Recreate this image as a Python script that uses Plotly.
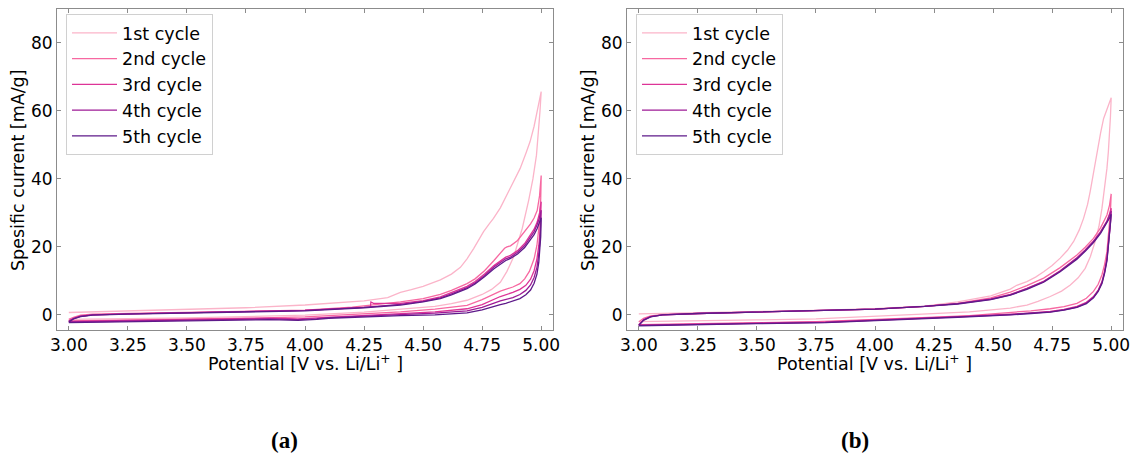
import plotly.graph_objects as go

# ---------------- data ----------------
cycle_names = ["1st cycle", "2nd cycle", "3rd cycle", "4th cycle", "5th cycle"]
colors = ["#fbb4c9", "#f768a1", "#dd3497", "#9e1a96", "#5e1a8a"]

# ---- panel (a) ----
a1_fwd_V = [3.00, 3.25, 3.50, 3.75, 4.00, 4.25, 4.35, 4.404, 4.45, 4.50, 4.573, 4.62, 4.658, 4.686, 4.714, 4.74, 4.756, 4.78, 4.798, 4.827, 4.855, 4.883, 4.911, 4.935, 4.953, 4.97, 4.982, 4.992, 5.00]
a1_fwd_I = [0.7, 1.1, 1.5, 2.1, 2.9, 4.1, 5.1, 6.6, 7.4, 8.4, 10.3, 12.0, 14.0, 16.5, 19.5, 22.5, 24.5, 26.8, 28.4, 31.5, 35.3, 39.0, 43.1, 47.5, 51.0, 55.5, 59.8, 63.0, 65.7]
a1_rev_V = [5.00, 4.995, 4.99, 4.98, 4.965, 4.947, 4.92, 4.90, 4.883, 4.855, 4.827, 4.79, 4.75, 4.686, 4.62, 4.55, 4.404, 4.25, 4.00, 3.75, 3.50, 3.25, 3.00]
a1_rev_I = [65.7, 60.0, 54.5, 47.0, 40.0, 33.7, 25.5, 20.5, 17.0, 12.8, 9.6, 7.5, 6.0, 4.3, 3.3, 2.5, 1.6, 0.8, -0.1, -0.6, -0.9, -1.1, -1.3]

a2_fwd_V = [3.00, 3.02, 3.05, 3.10, 3.25, 3.50, 3.75, 4.00, 4.20, 4.404, 4.50, 4.573, 4.62, 4.686, 4.72, 4.76, 4.80, 4.827, 4.845, 4.855, 4.87, 4.90, 4.93, 4.955, 4.97, 4.983, 4.993, 5.00]
a2_fwd_I = [-1.3, -0.7, -0.1, 0.2, 0.4, 0.7, 1.0, 1.4, 2.3, 3.8, 4.8, 6.0, 7.2, 9.2, 10.6, 13.0, 16.0, 18.2, 19.6, 20.0, 20.3, 21.9, 24.5, 26.8, 28.5, 30.7, 35.0, 41.0]
a2_rev_V = [5.00, 4.998, 4.995, 4.99, 4.982, 4.97, 4.95, 4.93, 4.91, 4.88, 4.827, 4.75, 4.686, 4.55, 4.404, 4.20, 4.00, 3.75, 3.50, 3.25, 3.05, 3.00]
a2_rev_I = [41.0, 34.0, 30.0, 25.5, 20.5, 16.5, 12.8, 10.6, 9.2, 8.2, 7.0, 4.5, 2.8, 1.7, 0.9, 0.2, -0.6, -1.0, -1.3, -1.5, -1.7, -1.8]

a3_fwd_V = [3.00, 3.02, 3.05, 3.10, 3.25, 3.50, 3.75, 4.00, 4.25, 4.277, 4.279, 4.29, 4.404, 4.50, 4.573, 4.62, 4.686, 4.72, 4.76, 4.80, 4.827, 4.85, 4.87, 4.90, 4.93, 4.955, 4.97, 4.983, 4.993, 5.00]
a3_fwd_I = [-1.8, -1.0, -0.4, 0.0, 0.3, 0.6, 0.9, 1.3, 2.2, 2.3, 3.8, 3.4, 3.4, 4.2, 5.3, 6.5, 8.4, 9.8, 12.0, 14.5, 15.8, 17.0, 17.5, 18.9, 21.0, 23.5, 25.2, 27.3, 30.0, 33.3]
a3_rev_V = [5.00, 4.998, 4.995, 4.99, 4.982, 4.97, 4.955, 4.935, 4.91, 4.88, 4.85, 4.827, 4.75, 4.686, 4.55, 4.404, 4.25, 4.10, 4.05, 3.97, 3.85, 3.75, 3.50, 3.25, 3.05, 3.00]
a3_rev_I = [33.3, 28.0, 24.5, 20.5, 16.5, 13.0, 10.5, 8.7, 7.5, 6.6, 5.9, 5.4, 3.0, 1.8, 0.9, 0.4, -0.1, -0.6, -0.9, -1.2, -1.0, -1.1, -1.4, -1.6, -1.8, -1.9]

a4_fwd_V = [3.00, 3.02, 3.05, 3.10, 3.25, 3.50, 3.75, 4.00, 4.25, 4.404, 4.50, 4.573, 4.62, 4.686, 4.72, 4.76, 4.80, 4.827, 4.85, 4.87, 4.90, 4.93, 4.955, 4.97, 4.983, 4.993, 5.00]
a4_fwd_I = [-1.9, -1.1, -0.4, 0.0, 0.3, 0.6, 0.9, 1.3, 2.2, 3.1, 4.0, 5.0, 6.2, 8.0, 9.4, 11.6, 14.1, 15.4, 16.5, 17.0, 18.4, 20.4, 22.8, 24.5, 26.6, 28.6, 30.8]
a4_rev_V = [5.00, 4.998, 4.995, 4.99, 4.982, 4.97, 4.955, 4.935, 4.91, 4.88, 4.85, 4.827, 4.75, 4.686, 4.55, 4.404, 4.25, 4.10, 4.05, 3.97, 3.85, 3.75, 3.50, 3.25, 3.05, 3.00]
a4_rev_I = [30.8, 25.5, 22.0, 18.0, 14.0, 11.0, 8.8, 7.2, 6.0, 5.1, 4.5, 4.1, 2.2, 1.2, 0.5, 0.1, -0.3, -0.8, -1.1, -1.4, -1.2, -1.3, -1.6, -1.8, -2.0, -2.1]

a5_fwd_V = [3.00, 3.02, 3.05, 3.10, 3.25, 3.50, 3.75, 4.00, 4.25, 4.404, 4.50, 4.573, 4.62, 4.686, 4.72, 4.76, 4.80, 4.827, 4.85, 4.87, 4.90, 4.93, 4.955, 4.97, 4.983, 4.993, 5.00]
a5_fwd_I = [-2.1, -1.2, -0.5, -0.1, 0.2, 0.5, 0.8, 1.2, 2.1, 2.9, 3.8, 4.8, 5.9, 7.7, 9.1, 11.2, 13.6, 14.9, 16.0, 16.6, 17.9, 19.8, 22.0, 23.6, 25.4, 27.0, 28.6]
a5_rev_V = [5.00, 4.998, 4.995, 4.99, 4.982, 4.97, 4.955, 4.935, 4.91, 4.88, 4.85, 4.827, 4.75, 4.686, 4.55, 4.404, 4.25, 4.10, 4.05, 3.97, 3.85, 3.75, 3.50, 3.25, 3.05, 3.00]
a5_rev_I = [28.6, 23.0, 19.5, 15.5, 12.0, 9.3, 7.3, 5.9, 4.8, 4.0, 3.4, 3.0, 1.5, 0.6, 0.0, -0.2, -0.5, -1.0, -1.3, -1.6, -1.4, -1.5, -1.8, -2.0, -2.2, -2.3]

# ---- panel (b) ----
b1_fwd_V = [3.00, 3.25, 3.50, 3.75, 4.00, 4.21, 4.35, 4.49, 4.573, 4.60, 4.643, 4.68, 4.714, 4.75, 4.784, 4.815, 4.841, 4.865, 4.883, 4.90, 4.911, 4.925, 4.939, 4.955, 4.968, 4.98, 4.989, 5.00]
b1_fwd_I = [0.3, 0.6, 0.9, 1.3, 1.8, 2.6, 3.8, 5.6, 7.6, 8.7, 9.8, 11.1, 12.7, 14.5, 16.7, 19.0, 21.6, 25.0, 28.4, 32.5, 36.3, 42.0, 48.0, 53.5, 57.8, 60.3, 61.8, 63.9]
b1_rev_V = [5.00, 4.997, 4.993, 4.988, 4.982, 4.972, 4.961, 4.948, 4.932, 4.912, 4.890, 4.86, 4.827, 4.79, 4.742, 4.69, 4.643, 4.573, 4.40, 4.20, 4.00, 3.75, 3.50, 3.25, 3.00]
b1_rev_I = [63.9, 58.5, 52.9, 48.0, 43.1, 37.0, 31.4, 26.0, 21.6, 17.2, 13.7, 10.9, 8.8, 7.0, 5.4, 4.0, 2.9, 2.0, 0.9, 0.2, -0.5, -1.2, -1.5, -1.7, -2.0]

b2_fwd_V = [3.00, 3.02, 3.05, 3.10, 3.25, 3.50, 3.75, 4.00, 4.21, 4.35, 4.49, 4.573, 4.643, 4.714, 4.784, 4.855, 4.89, 4.925, 4.955, 4.982, 4.993, 5.00]
b2_fwd_I = [-2.0, -1.0, -0.3, 0.1, 0.4, 0.8, 1.2, 1.7, 2.5, 3.4, 5.0, 6.7, 8.6, 10.8, 13.9, 17.6, 19.9, 22.5, 25.6, 29.4, 32.3, 35.6]
b2_rev_V = [5.00, 4.997, 4.993, 4.988, 4.982, 4.972, 4.961, 4.945, 4.925, 4.895, 4.855, 4.80, 4.742, 4.66, 4.573, 4.40, 4.20, 4.00, 3.82, 3.75, 3.50, 3.25, 3.05, 3.00]
b2_rev_I = [35.6, 30.5, 26.5, 22.3, 18.6, 14.8, 11.8, 9.0, 6.9, 4.9, 3.4, 2.4, 1.8, 1.2, 0.7, -0.2, -0.8, -1.4, -1.9, -2.0, -2.3, -2.6, -2.8, -2.9]

b3_fwd_V = [3.00, 3.02, 3.05, 3.10, 3.25, 3.50, 3.75, 4.00, 4.21, 4.35, 4.49, 4.573, 4.643, 4.714, 4.784, 4.855, 4.89, 4.925, 4.955, 4.982, 4.993, 5.00]
b3_fwd_I = [-2.9, -1.4, -0.5, 0.0, 0.4, 0.8, 1.2, 1.7, 2.5, 3.3, 4.7, 6.0, 7.8, 9.9, 13.0, 16.8, 19.1, 21.7, 24.5, 27.6, 29.8, 31.4]
b3_rev_V = [5.00, 4.997, 4.992, 4.987, 4.982, 4.972, 4.961, 4.945, 4.925, 4.895, 4.855, 4.80, 4.742, 4.66, 4.573, 4.35, 4.00, 3.82, 3.79, 3.50, 3.25, 3.05, 3.00]
b3_rev_I = [31.4, 27.5, 24.5, 20.4, 16.7, 12.8, 9.8, 7.3, 5.4, 3.7, 2.5, 1.6, 1.0, 0.6, 0.2, -0.5, -1.5, -2.0, -2.1, -2.4, -2.7, -2.9, -3.0]

b4_fwd_V = [3.00, 3.02, 3.05, 3.10, 3.25, 3.50, 3.75, 4.00, 4.21, 4.35, 4.49, 4.573, 4.643, 4.714, 4.784, 4.855, 4.89, 4.925, 4.955, 4.982, 4.993, 5.00]
b4_fwd_I = [-3.0, -1.5, -0.5, 0.0, 0.4, 0.8, 1.2, 1.7, 2.5, 3.3, 4.6, 5.9, 7.7, 9.8, 12.9, 16.7, 19.0, 21.6, 24.3, 27.5, 29.3, 30.6]
b4_rev_V = [5.00, 4.997, 4.992, 4.987, 4.982, 4.972, 4.961, 4.945, 4.925, 4.895, 4.855, 4.80, 4.742, 4.66, 4.573, 4.35, 4.00, 3.82, 3.79, 3.50, 3.25, 3.05, 3.00]
b4_rev_I = [30.6, 27.0, 24.0, 20.0, 16.3, 12.5, 9.5, 7.1, 5.2, 3.5, 2.3, 1.5, 0.9, 0.5, 0.1, -0.6, -1.6, -2.1, -2.2, -2.5, -2.8, -3.0, -3.1]

b5_fwd_V = [3.00, 3.02, 3.05, 3.10, 3.25, 3.50, 3.75, 4.00, 4.21, 4.35, 4.49, 4.573, 4.643, 4.714, 4.784, 4.855, 4.89, 4.925, 4.955, 4.982, 4.993, 5.00]
b5_fwd_I = [-3.1, -1.6, -0.6, 0.0, 0.4, 0.8, 1.2, 1.7, 2.5, 3.2, 4.5, 5.8, 7.5, 9.6, 12.7, 16.4, 18.7, 21.3, 24.0, 27.1, 28.5, 29.6]
b5_rev_V = [5.00, 4.997, 4.992, 4.987, 4.982, 4.972, 4.961, 4.945, 4.925, 4.895, 4.855, 4.80, 4.742, 4.66, 4.573, 4.35, 4.00, 3.82, 3.79, 3.50, 3.25, 3.05, 3.00]
b5_rev_I = [29.6, 26.5, 23.4, 19.5, 15.9, 12.2, 9.2, 6.9, 5.0, 3.3, 2.2, 1.4, 0.8, 0.4, 0.0, -0.7, -1.7, -2.2, -2.3, -2.6, -2.9, -3.1, -3.2]

x_ticks = [3.00, 3.25, 3.50, 3.75, 4.00, 4.25, 4.50, 4.75, 5.00]
y_ticks = [0, 20, 40, 60, 80]

panel_a = [(a1_fwd_V, a1_fwd_I, a1_rev_V, a1_rev_I),
           (a2_fwd_V, a2_fwd_I, a2_rev_V, a2_rev_I),
           (a3_fwd_V, a3_fwd_I, a3_rev_V, a3_rev_I),
           (a4_fwd_V, a4_fwd_I, a4_rev_V, a4_rev_I),
           (a5_fwd_V, a5_fwd_I, a5_rev_V, a5_rev_I)]
panel_b = [(b1_fwd_V, b1_fwd_I, b1_rev_V, b1_rev_I),
           (b2_fwd_V, b2_fwd_I, b2_rev_V, b2_rev_I),
           (b3_fwd_V, b3_fwd_I, b3_rev_V, b3_rev_I),
           (b4_fwd_V, b4_fwd_I, b4_rev_V, b4_rev_I),
           (b5_fwd_V, b5_fwd_I, b5_rev_V, b5_rev_I)]

# ---------------- figure ----------------
W, H = 1136, 459
FONT = "DejaVu Sans"
TICK_SIZE = 17
LABEL_SIZE = 17.5
fig = go.Figure()

for k, (fv, fi, rv, ri) in enumerate(panel_a):
    fig.add_trace(go.Scatter(x=fv + rv, y=fi + ri, mode="lines", name=cycle_names[k],
                             line=dict(color=colors[k], width=1.3),
                             legendgroup="a%d" % k,
                             xaxis="x", yaxis="y", legend="legend"))
for k, (fv, fi, rv, ri) in enumerate(panel_b):
    fig.add_trace(go.Scatter(x=fv + rv, y=fi + ri, mode="lines", name=cycle_names[k],
                             line=dict(color=colors[k], width=1.3),
                             legendgroup="b%d" % k,
                             xaxis="x2", yaxis="y2", legend="legend2"))

def px_x(p):
    return p / W

def px_y(p):
    return 1 - p / H

axis_common = dict(showline=True, linecolor="#8c8c8c", linewidth=1, mirror="allticks",
                   ticks="inside", ticklen=4, tickcolor="#8c8c8c", showgrid=False,
                   zeroline=False, automargin=False,
                   tickfont=dict(family=FONT, size=TICK_SIZE, color="black"))

xa = dict(axis_common, range=[2.95, 5.05], tickvals=x_ticks, tickformat=".2f")
ya = dict(axis_common, range=[-4.45, 90.0], tickvals=y_ticks)

legend_common = dict(font=dict(family=FONT, size=LABEL_SIZE, color="black"),
                     bgcolor="rgba(255,255,255,0.85)", bordercolor="#d0d0d0", borderwidth=1,
                     xanchor="left", yanchor="top", itemwidth=45, tracegroupgap=0)

fig.update_layout(
    width=W, height=H, margin=dict(l=0, r=0, t=0, b=0, autoexpand=False),
    paper_bgcolor="white", plot_bgcolor="white",
    xaxis=dict(xa, domain=[px_x(57), px_x(553)], anchor="y"),
    yaxis=dict(ya, domain=[px_y(330), px_y(9)], anchor="x"),
    xaxis2=dict(xa, domain=[px_x(627), px_x(1123)], anchor="y2"),
    yaxis2=dict(ya, domain=[px_y(330), px_y(9)], anchor="x2"),
    legend=dict(legend_common, x=px_x(66), y=px_y(14)),
    legend2=dict(legend_common, x=px_x(636), y=px_y(14)),
    font=dict(family=FONT, size=LABEL_SIZE, color="black"),
)

annotations = []
for cx in (305, 875):
    annotations.append(dict(text="Potential [V vs. Li/Li<sup>+</sup> ]", x=px_x(cx), y=px_y(363),
                            xref="paper", yref="paper", showarrow=False,
                            xanchor="center", yanchor="middle",
                            font=dict(family=FONT, size=LABEL_SIZE, color="black")))
for cx in (18, 588):
    annotations.append(dict(text="Spesific current [mA/g]", x=px_x(cx), y=px_y(170),
                            xref="paper", yref="paper", showarrow=False, textangle=-90,
                            xanchor="center", yanchor="middle",
                            font=dict(family=FONT, size=LABEL_SIZE, color="black")))
for cx, lab in ((284, "(a)"), (855, "(b)")):
    annotations.append(dict(text="<b>" + lab + "</b>", x=px_x(cx), y=px_y(440),
                            xref="paper", yref="paper", showarrow=False,
                            xanchor="center", yanchor="middle",
                            font=dict(family="Liberation Serif", size=23, color="black")))
fig.update_layout(annotations=annotations)

fig.write_html("out.html")
